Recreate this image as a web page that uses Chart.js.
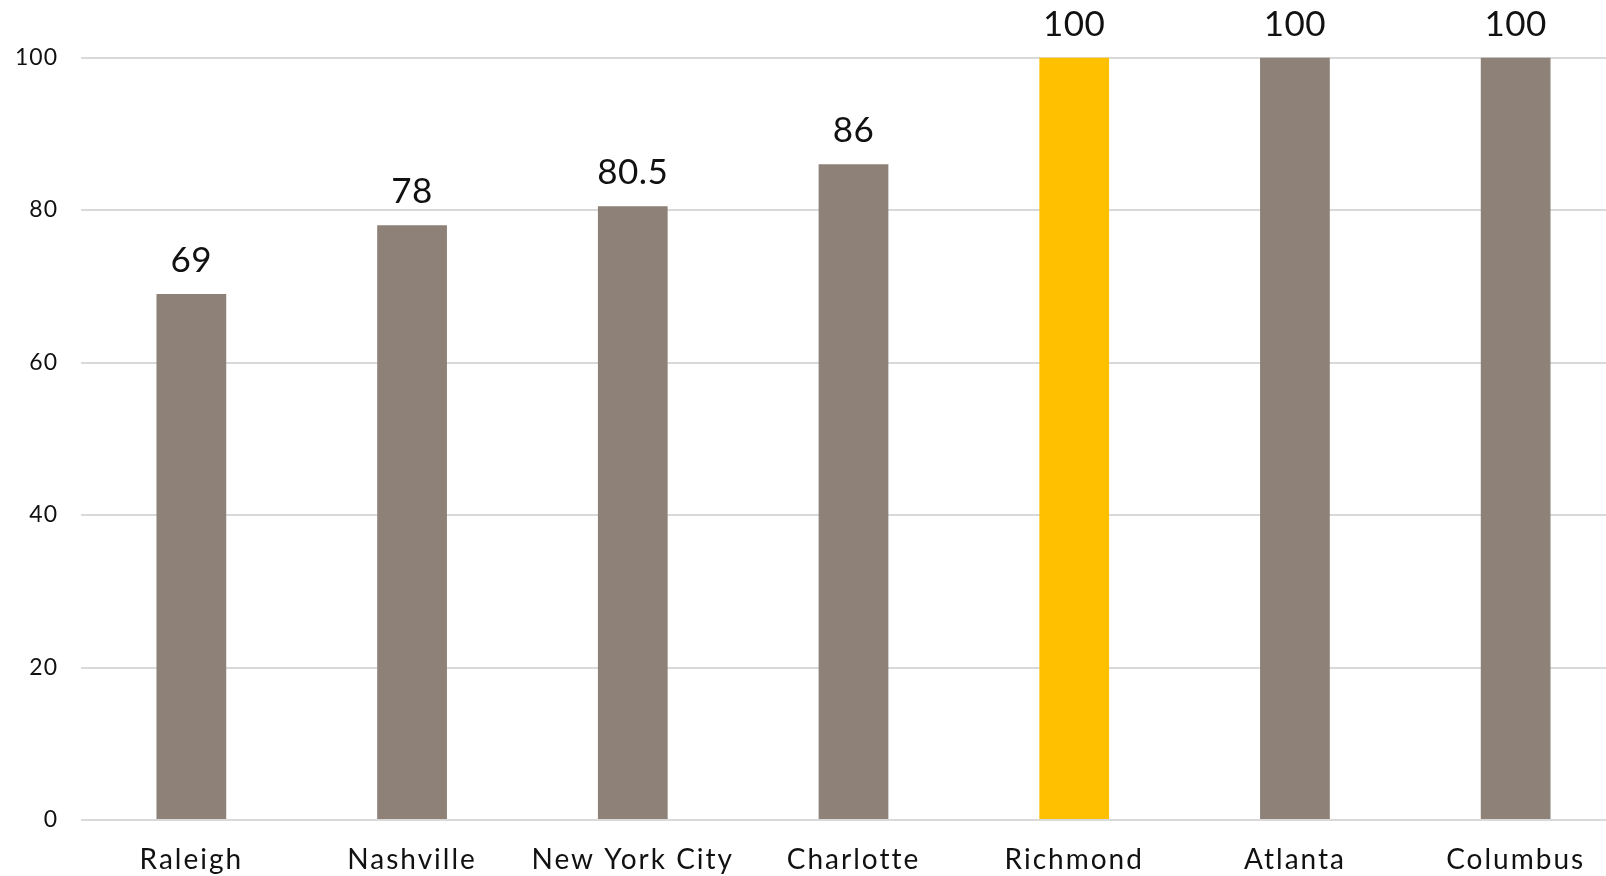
<!DOCTYPE html>
<html>
<head>
<meta charset="utf-8">
<script src="https://cdn.jsdelivr.net/npm/chart.js@4/dist/chart.umd.min.js"></script>
<style>
  html, body { margin: 0; padding: 0; background: #ffffff; overflow: hidden; }
  #wrap { position: relative; width: 1626px; height: 876px; }
</style>
</head>
<body>
<div id="wrap"><canvas id="chart"></canvas></div>
<script>
// Scores by city
const cities = ['Raleigh', 'Nashville', 'New York City', 'Charlotte', 'Richmond', 'Atlanta', 'Columbus'];
const scores = [69, 78, 80.5, 86, 100, 100, 100];
const highlightCity = 'Richmond';
const yTicks = [0, 20, 40, 60, 80, 100];

const GREY = '#8d8178';
const GOLD = '#ffc000';
const FONT = 'Lato, "Open Sans", sans-serif';

// Value labels above each bar
const barValueLabels = {
  id: 'barValueLabels',
  afterDatasetsDraw(chart) {
    const ctx = chart.ctx;
    const meta = chart.getDatasetMeta(0);
    ctx.save();
    ctx.font = '35px ' + FONT;
    ctx.letterSpacing = '0.5px';
    ctx.fillStyle = '#111111';
    ctx.textAlign = 'center';
    ctx.textBaseline = 'alphabetic';
    meta.data.forEach((bar, i) => {
      ctx.fillText(String(scores[i]), bar.x, bar.y - 22);
    });
    ctx.restore();
  }
};

// Slightly wider tracking for the axis labels
const labelTracking = { x: '2px', y: '1px' };
const trackedAxisLabels = {
  id: 'trackedAxisLabels',
  beforeDraw(chart) {
    Object.keys(labelTracking).forEach(id => {
      const scale = chart.scales[id];
      if (!scale || scale._tracked) return;
      const drawLabels = scale.drawLabels.bind(scale);
      scale.drawLabels = function (area) {
        const ctx = this.ctx;
        const prev = ctx.letterSpacing;
        ctx.letterSpacing = labelTracking[id];
        drawLabels(area);
        ctx.letterSpacing = prev;
      };
      scale._tracked = true;
    });
  }
};

new Chart(document.getElementById('chart'), {
  type: 'bar',
  data: {
    labels: cities,
    datasets: [{
      data: scores,
      backgroundColor: cities.map(c => c === highlightCity ? GOLD : GREY),
      borderWidth: 0,
      barPercentage: 0.316,
      categoryPercentage: 1.0
    }]
  },
  options: {
    responsive: true,
    maintainAspectRatio: false,
    animation: false,
    layout: { padding: { top: 57.5, right: 0, bottom: 0, left: 0 } },
    plugins: {
      legend: { display: false },
      tooltip: { enabled: false }
    },
    scales: {
      x: {
        grid: { display: false, drawTicks: false },
        border: { display: false },
        ticks: {
          color: '#111111',
          font: { family: FONT, size: 28 },
          padding: 23,
          maxRotation: 0,
          autoSkip: false
        },
        afterFit(scale) { scale.height = 56; }
      },
      y: {
        min: 0,
        max: 100,
        afterBuildTicks(scale) { scale.ticks = yTicks.map(v => ({ value: v })); },
        grid: { color: '#d9d9d9', lineWidth: 2, drawTicks: false },
        border: { display: false },
        ticks: {
          color: '#111111',
          font: { family: FONT, size: 23 },
          padding: 23
        },
        afterFit(scale) { scale.width = 81; }
      }
    }
  },
  plugins: [trackedAxisLabels, barValueLabels]
});
</script>
</body>
</html>
